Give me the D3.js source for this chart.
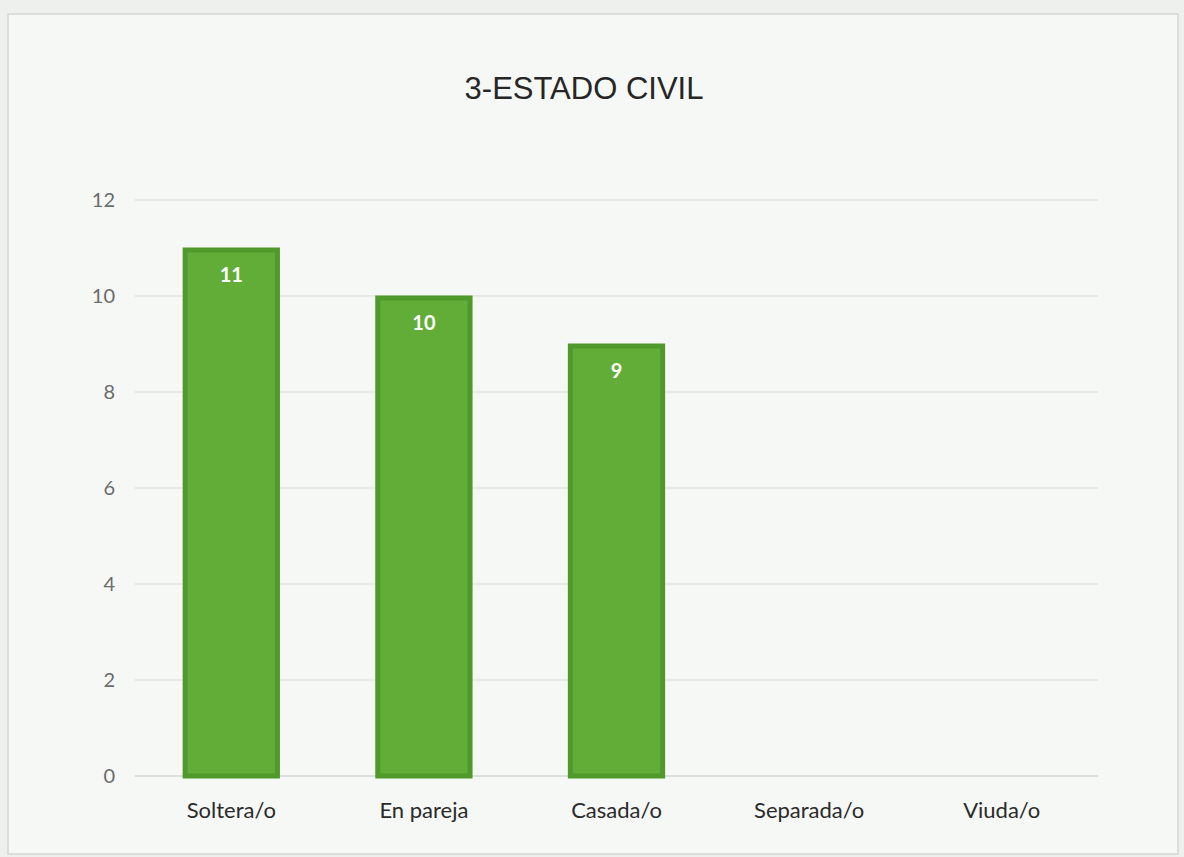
<!DOCTYPE html>
<html>
<head>
<meta charset="utf-8">
<script src="https://cdn.jsdelivr.net/npm/d3@7"></script>
<style>
  body { margin: 0; background: #eef0ee; }
  #chart { width: 1184px; height: 857px; }
</style>
</head>
<body>
<div id="chart"></div>
<script>
// datos del gráfico
const categorias = ["Soltera/o", "En pareja", "Casada/o", "Separada/o", "Viuda/o"];
const valores = [11, 10, 9, 0, 0];
const ticks = [0, 2, 4, 6, 8, 10, 12];
const titulo = "3-ESTADO CIVIL";

const width = 1184, height = 857;
const margin = { top: 200, right: 86, bottom: 81, left: 135 };

const svg = d3.select("#chart").append("svg")
    .attr("width", width)
    .attr("height", height);

// marco del área del gráfico
svg.append("rect")
    .attr("x", 8).attr("y", 14)
    .attr("width", 1170).attr("height", 840)
    .attr("fill", "#f6f8f6")
    .attr("stroke", "#d4d6d4")
    .attr("stroke-width", 1.5);

const x = d3.scaleBand()
    .domain(categorias)
    .range([margin.left, width - margin.right])
    .paddingInner(0.5)
    .paddingOuter(0.25);

const y = d3.scaleLinear()
    .domain([0, 12])
    .range([height - margin.bottom, margin.top]);

// líneas de cuadrícula
svg.append("g")
    .selectAll("line")
    .data(ticks)
    .join("line")
    .attr("x1", margin.left)
    .attr("x2", width - margin.right)
    .attr("y1", d => y(d))
    .attr("y2", d => y(d))
    .attr("stroke", d => d === 0 ? "#c4c6c4" : "#d6d8d6")
    .attr("stroke-width", 1);

// eje Y
const ejeY = svg.append("g")
    .attr("transform", `translate(${margin.left - 20},0)`)
    .call(d3.axisLeft(y).tickValues(ticks).tickSize(0).tickPadding(0));
ejeY.select(".domain").remove();
ejeY.selectAll("text")
    .attr("fill", "#6a6c6a")
    .style("font-family", "Lato, 'Open Sans', sans-serif")
    .style("font-size", "20px");

// eje X
const ejeX = svg.append("g")
    .attr("transform", `translate(0,${height - margin.bottom})`)
    .call(d3.axisBottom(x).tickSize(0).tickPadding(26));
ejeX.select(".domain").remove();
ejeX.selectAll("text")
    .attr("fill", "#2a2a2a")
    .style("font-family", "Lato, 'Open Sans', sans-serif")
    .style("font-size", "22px");

// barras
svg.append("g")
    .selectAll("rect")
    .data(valores.map((v, i) => ({ cat: categorias[i], v })).filter(d => d.v > 0))
    .join("rect")
    .attr("x", d => x(d.cat) + 2)
    .attr("y", d => y(d.v) + 2)
    .attr("width", x.bandwidth() - 4)
    .attr("height", d => y(0) - y(d.v) - 2)
    .attr("fill", "#62ad38")
    .attr("stroke", "#4f9a2a")
    .attr("stroke-width", 5);

// etiquetas de valor
svg.append("g")
    .selectAll("text")
    .data(valores.map((v, i) => ({ cat: categorias[i], v })).filter(d => d.v > 0))
    .join("text")
    .attr("x", d => x(d.cat) + x.bandwidth() / 2)
    .attr("y", d => y(d.v) + 34)
    .attr("text-anchor", "middle")
    .attr("fill", "#ffffff")
    .style("font-family", "Lato, 'Open Sans', sans-serif")
    .style("font-weight", "bold")
    .style("font-size", "20px")
    .text(d => d.v);

// título
svg.append("text")
    .attr("x", 584)
    .attr("y", 99)
    .attr("text-anchor", "middle")
    .attr("fill", "#262626")
    .style("font-family", "'Liberation Sans', Arial, sans-serif")
    .style("font-size", "31px")
    .text(titulo);
</script>
</body>
</html>
